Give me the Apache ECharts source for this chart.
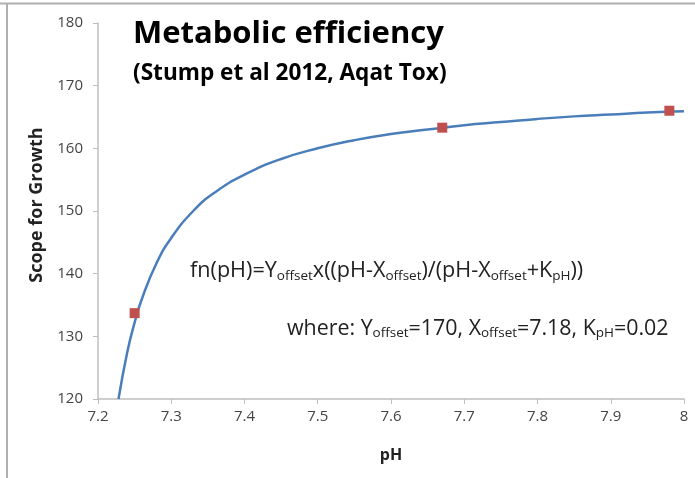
<!DOCTYPE html>
<html>
<head>
<meta charset="utf-8">
<script src="https://cdn.jsdelivr.net/npm/echarts@6/dist/echarts.min.js"></script>
<style>
  html, body { margin: 0; padding: 0; background: #fff; }
  #chart { width: 695px; height: 478px; }
</style>
</head>
<body>
<div id="chart"></div>
<script>
// fitted curve
const curvePH = [7.228, 7.24, 7.25, 7.26, 7.28, 7.3, 7.33, 7.36, 7.4, 7.45, 7.5, 7.55, 7.6, 7.65, 7.7, 7.75, 7.8, 7.85, 7.9, 7.95, 8.0]
const curveSFG = [120, 127.5, 132.2, 136.0, 141.7, 145.7, 150.0, 153.0, 155.8, 158.3, 160.0, 161.3, 162.3, 163.0, 163.7, 164.2, 164.7, 165.1, 165.4, 165.7, 165.9]

// measured points
const pointPH = [7.25, 7.67, 7.98]
const pointSFG = [133.7, 163.3, 166.0]

const xTicks = [7.2, 7.3, 7.4, 7.5, 7.6, 7.7, 7.8, 7.9, 8]
const yTicks = [120, 130, 140, 150, 160, 170, 180]

const chart = echarts.init(document.getElementById('chart'))

let curveData = curvePH.map((x, i) => [x, curveSFG[i]])
let pointData = pointPH.map((x, i) => [x, pointSFG[i]])

const font = 'Open Sans'
const axisGray = '#bfbfbf'
const sub = { fontFamily: font, fontSize: 13.5, fill: '#222', verticalAlign: 'bottom', padding: [10, 0, 0, 0] }

let option = {
  animation: false,
  grid: { left: 98, right: 11, top: 23, bottom: 79 },
  xAxis: {
    type: 'value',
    min: xTicks[0],
    max: xTicks[xTicks.length - 1],
    interval: 0.1,
    name: 'pH',
    nameLocation: 'middle',
    nameGap: 48,
    nameTextStyle: { fontFamily: font, fontWeight: 'bold', fontSize: 16, color: '#222' },
    axisLine: { lineStyle: { color: axisGray, width: 1.5 } },
    axisTick: { show: true, length: 5, lineStyle: { color: axisGray } },
    axisLabel: {
      fontFamily: font, fontSize: 15, color: '#444', margin: 10,
      formatter: v => {
        let r = Math.round(v * 10) / 10
        return r === 8 ? '8' : r.toFixed(1)
      }
    },
    splitLine: { show: false }
  },
  yAxis: {
    type: 'value',
    min: yTicks[0],
    max: yTicks[yTicks.length - 1],
    interval: 10,
    name: 'Scope for Growth',
    nameLocation: 'middle',
    nameGap: 49,
    nameTextStyle: { fontFamily: font, fontWeight: 'bold', fontSize: 18, color: '#222', padding: [0, 0, 0, 12] },
    axisLine: { show: true, lineStyle: { color: axisGray, width: 1.5 } },
    axisTick: { show: true, length: 5, lineStyle: { color: axisGray } },
    axisLabel: { fontFamily: font, fontSize: 15, color: '#444', margin: 15 },
    splitLine: { show: false }
  },
  series: [
    {
      type: 'line',
      data: curveData,
      smooth: true,
      showSymbol: false,
      lineStyle: { color: '#4a7ebb', width: 2.5 },
      z: 2
    },
    {
      type: 'scatter',
      data: pointData,
      symbol: 'rect',
      symbolSize: 10,
      itemStyle: { color: '#c0504d', opacity: 1 },
      z: 3
    }
  ],
  graphic: [
    // slide frame
    { type: 'line', shape: { x1: 0, y1: 3.5, x2: 695, y2: 3.5 }, style: { stroke: '#b0b0b0', lineWidth: 2 } },
    { type: 'line', shape: { x1: 7, y1: 3, x2: 7, y2: 478 }, style: { stroke: '#b0b0b0', lineWidth: 2 } },
    {
      type: 'text', left: 133, top: 19,
      style: { text: 'Metabolic efficiency', fontFamily: font, fontWeight: 'bold', fontSize: 31, fill: '#000' }
    },
    {
      type: 'text', left: 133, top: 62,
      style: { text: '(Stump et al 2012, Aqat Tox)', fontFamily: font, fontWeight: 'bold', fontSize: 22.6, fill: '#000' }
    },
    {
      type: 'text', left: 190, top: 260,
      style: {
        text: 'fn(pH)=Y{s|offset}x((pH-X{s|offset})/(pH-X{s|offset}+K{s|pH}))',
        fontFamily: font, fontSize: 21.6, fill: '#222',
        rich: { s: sub }
      }
    },
    {
      type: 'text', left: 287, top: 318,
      style: {
        text: 'where: Y{s|offset}=170, X{s|offset}=7.18, K{s|pH}=0.02',
        fontFamily: font, fontSize: 21.4, fill: '#222',
        rich: { s: sub }
      }
    }
  ]
}

chart.setOption(option)
</script>
</body>
</html>
